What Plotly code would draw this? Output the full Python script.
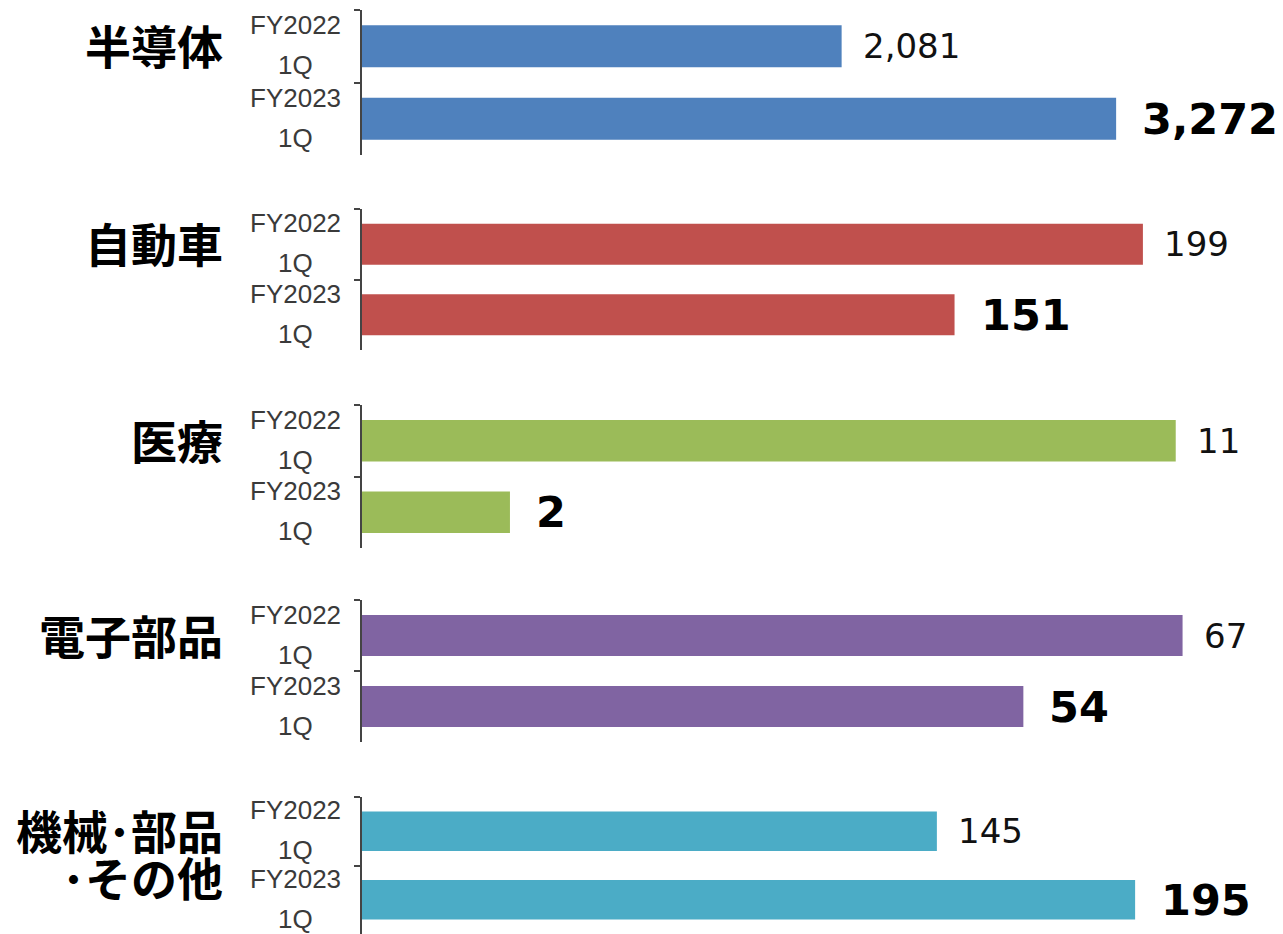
import plotly.graph_objects as go

# ---- data ----
group_label_lines = [["半導体"], ["自動車"], ["医療"], ["電子部品"], ["機械･部品", "･その他"]]
periods = ["FY2022", "FY2023"]
quarter = "1Q"
fy2022 = [2081, 199, 11, 67, 145]
fy2023 = [3272, 151, 2, 54, 195]
colors = ["#4F81BD", "#C0504D", "#9BBB59", "#8064A2", "#4BACC6"]
# per-group axis maxima (each group has its own scale)
x_max = [3996, 234.7, 12.45, 75.2, 232.3]

OFF = 8  # default page body margin
W, H = 1283 - OFF, 934 - OFF
# screen-pixel extents of each group's axis (top, bottom)
group_px = [(10, 155), (209, 350), (405, 548), (600, 742), (797, 934)]
plot_left_px = 362
cat_label_x = 295
group_label_right = 225


def px_x(s):
    return (s - OFF) / W


def px_y(s):
    return 1 - (s - OFF) / H


cats = [p + " " + quarter for p in periods]

fig = go.Figure()
annotations = []
layout_axes = {}

for i in range(5):
    n = "" if i == 0 else str(i + 1)
    xa, ya = "x" + n, "y" + n
    vals = [fy2022[i], fy2023[i]]
    fig.add_trace(go.Bar(
        x=vals, y=cats, orientation="h",
        marker=dict(color=colors[i], line=dict(width=0)),
        xaxis=xa, yaxis=ya, showlegend=False, hoverinfo="skip",
    ))
    top, bot = group_px[i]
    layout_axes["xaxis" + n] = dict(
        domain=[px_x(plot_left_px), 1.0], range=[0, x_max[i]], autorange=False,
        anchor=ya, visible=False, fixedrange=True,
    )
    layout_axes["yaxis" + n] = dict(
        domain=[max(0, px_y(bot)), min(1, px_y(top))], anchor=xa,
        type="category", categoryorder="array", categoryarray=cats,
        range=[1.5, -0.5], autorange=False, showticklabels=False,
        showline=True, linecolor="#444444", linewidth=1.5,
        ticks="outside", tickson="boundaries", ticklen=6,
        tickcolor="#444444", tickwidth=1.5,
        showgrid=False, zeroline=False, fixedrange=True,
    )
    # category labels (two lines, centered)
    for c, p in zip(cats, periods):
        for txt, sh in ((p, 21), (quarter, -19)):
            annotations.append(dict(
                xref="paper", yref=ya, x=px_x(cat_label_x), y=c, text=txt,
                showarrow=False, xanchor="center", yanchor="middle", yshift=sh,
                font=dict(family="Liberation Sans, Arial", size=26, color="#3a3a3a"),
            ))
    # group labels
    for k, line in enumerate(group_label_lines[i]):
        annotations.append(dict(
            xref="paper", yref=ya, x=px_x(group_label_right), y=cats[0], text=line,
            showarrow=False, xanchor="right", yanchor="middle", yshift=2 - 47 * k,
            font=dict(family="Noto Sans CJK JP", size=46, color="#000000", weight=700),
        ))
    # value labels
    annotations.append(dict(
        xref=xa, yref=ya, x=fy2022[i], y=cats[0], text=f"{fy2022[i]:,}",
        showarrow=False, xanchor="left", yanchor="middle", xshift=19,
        font=dict(family="DejaVu Sans, Verdana", size=34, color="#111111"),
    ))
    annotations.append(dict(
        xref=xa, yref=ya, x=fy2023[i], y=cats[1], text=f"{fy2023[i]:,}",
        showarrow=False, xanchor="left", yanchor="middle", xshift=24,
        font=dict(family="DejaVu Sans, Verdana", size=43, color="#000000", weight=700),
    ))

fig.update_layout(
    width=W, height=H,
    margin=dict(l=0, r=0, t=0, b=0, pad=0),
    paper_bgcolor="white", plot_bgcolor="white",
    bargap=0.42,
    annotations=annotations,
    **layout_axes,
)

fig.write_html("out.html", config={"displayModeBar": False})
